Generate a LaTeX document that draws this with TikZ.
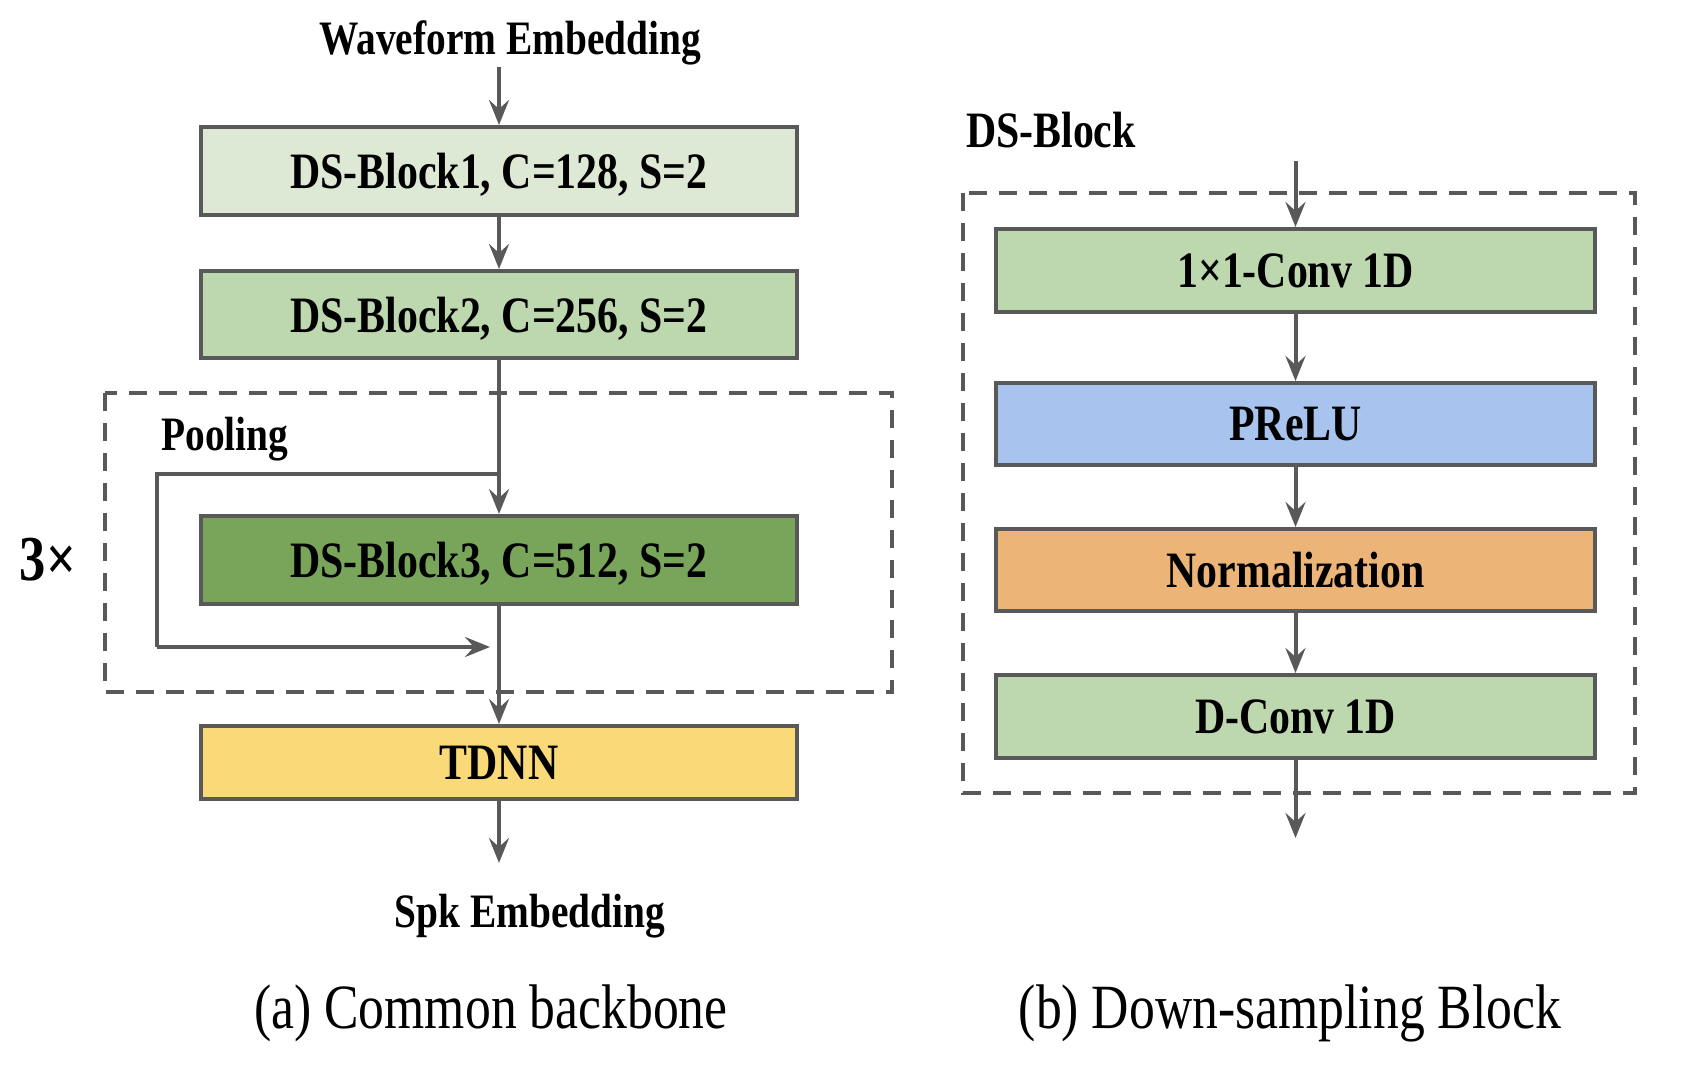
\documentclass[tikz,border=0pt]{standalone}
\usepackage{fontspec}
\setmainfont{Liberation Serif}[FakeStretch=0.82]
\usetikzlibrary{arrows.meta}
\definecolor{lc}{HTML}{595959}
\definecolor{gA}{HTML}{DDE8D5}
\definecolor{gB}{HTML}{BDD7AE}
\definecolor{gC}{HTML}{78A55A}
\definecolor{yT}{HTML}{F9D978}
\definecolor{bP}{HTML}{A9C3EF}
\definecolor{oN}{HTML}{EDB478}
\begin{document}
\begin{tikzpicture}[x=0.5pt,y=-0.5pt,
  blk/.style={draw=lc, line width=2pt, minimum width=298pt, inner sep=0pt, text depth=0pt,
    font=\fontsize{25.5}{30}\selectfont\bfseries},
  rblk/.style={blk, minimum width=299.5pt, minimum height=41.5pt},
  lbl/.style={font=\fontsize{24}{28}\selectfont\bfseries, inner sep=0pt},
  captxt/.style={font=\fontsize{31.5}{36}\selectfont, inner sep=0pt},
  conn/.style={draw=lc, line width=2pt, -{Stealth[length=12.5pt,width=10pt,inset=4.5pt]}},
  plain/.style={draw=lc, line width=2pt},
  dbox/.style={draw=lc, line width=1.75pt, dash pattern=on 9pt off 6pt}]
\useasboundingbox (0,0) rectangle (1688,1070);

% ---------- left: common backbone ----------
\node[lbl] (wav) at (510,43) {Waveform Embedding};
\coordinate (win) at (499,67);
\node[blk, fill=gA, minimum height=44pt] (b1) at (499,171) {DS-Block1, C=128, S=2};
\node[blk, fill=gB, minimum height=43.5pt] (b2) at (499,314.5) {DS-Block2, C=256, S=2};
\draw[dbox] (105,393) rectangle (892,692);
\node[lbl] (pool) at (225,439) {Pooling};
\node[blk, fill=gC, minimum height=44pt] (b3) at (499,560) {DS-Block3, C=512, S=2};
\node[blk, fill=yT, minimum height=36.5pt] (td) at (499,762.5) {TDNN};
\coordinate (wout) at (499,863);
\node[lbl] (spk) at (530,916) {Spk Embedding};
\node[font=\fontsize{32}{36}\selectfont\bfseries, inner sep=0pt] (rep) at (48,560) {3×};
\coordinate (split) at (499,474);
\coordinate (lpA) at (157,474);
\coordinate (lpB) at (157,647);
\coordinate (lpC) at (490,647);

\draw[conn] (win) -- (b1.north);
\draw[conn] (b1.south) -- (b2.north);
\draw[conn] (b2.south) -- (b3.north);
\draw[plain] (split) -- (lpA) -- (lpB);
\draw[conn] (lpB) -- (lpC);
\draw[conn] (b3.south) -- (td.north);
\draw[conn] (td.south) -- (wout);

\node[captxt] (capa) at (491,1013) {(a) Common backbone};

% ---------- right: down-sampling block ----------
\node[lbl, font=\fontsize{25.5}{30}\selectfont\bfseries] (dsb) at (1051,130) {DS-Block};
\draw[dbox] (963,193) rectangle (1635,793);
\coordinate (rin) at (1295.5,161);
\node[rblk, fill=gB] (c1) at (1295.5,270.5) {1×1-Conv 1D};
\node[rblk, fill=bP, minimum height=41pt] (pr) at (1295.5,424) {PReLU};
\node[rblk, fill=oN, minimum height=41pt] (nm) at (1295.5,570) {Normalization};
\node[rblk, fill=gB] (dc) at (1295.5,716.5) {D-Conv 1D};
\coordinate (rout) at (1295.5,838);

\draw[conn] (rin) -- (c1.north);
\draw[conn] (c1.south) -- (pr.north);
\draw[conn] (pr.south) -- (nm.north);
\draw[conn] (nm.south) -- (dc.north);
\draw[conn] (dc.south) -- (rout);

\node[captxt] (capb) at (1290,1013) {(b) Down-sampling Block};
\end{tikzpicture}
\end{document}
